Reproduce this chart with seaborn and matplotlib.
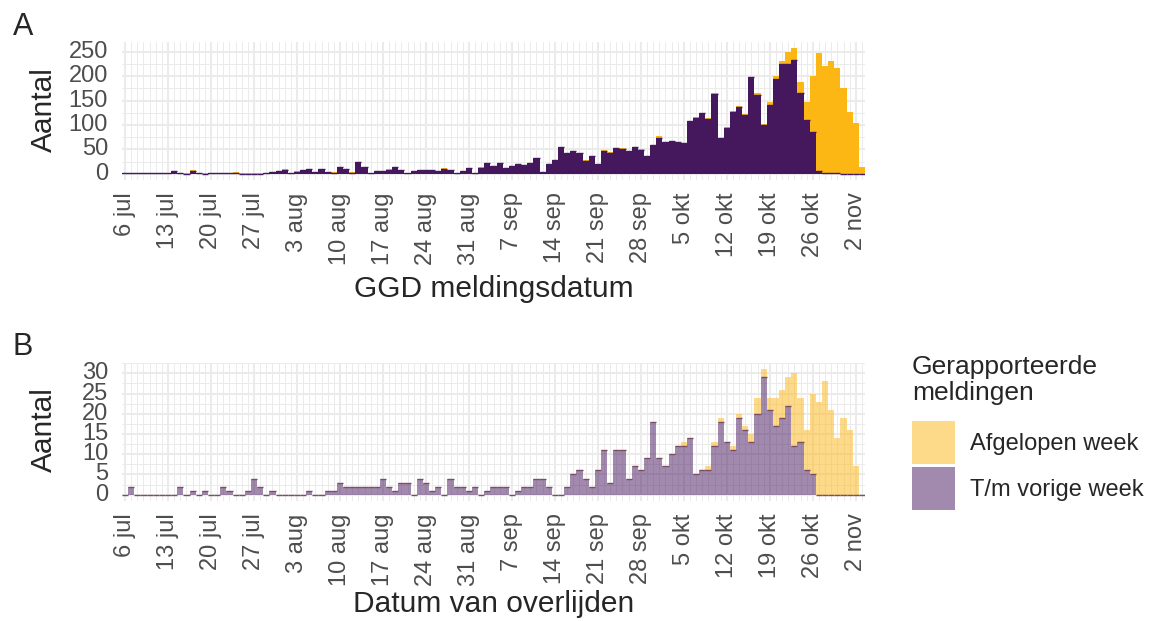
import numpy as np
import pandas as pd
import matplotlib
matplotlib.use("Agg")
import matplotlib.pyplot as plt
import seaborn as sns
from matplotlib.patches import Patch
from matplotlib.ticker import MultipleLocator, FixedLocator

# ---------------- data ----------------
dates = pd.date_range("2020-07-06", "2020-11-03", freq="D")

# Panel A: GGD meldingsdatum
a_prev = [1, 1, 1, 1, 1, 1, 1, 1, 5, 1, 0, 5, 1, 0, 1, 2, 2, 2, 2, 0,
          0, 0, 0, 1, 3, 6, 8, 1, 4, 7, 9, 3, 9, 4, 1, 14, 10, 1, 24, 14,
          1, 5, 5, 8, 13, 7, 2, 5, 7, 7, 7, 5, 10, 7, 1, 5, 11, 1, 12, 21,
          15, 21, 11, 15, 19, 17, 23, 33, 3, 19, 28, 54, 42, 46, 42, 26, 36, 19, 47, 43,
          52, 50, 46, 54, 49, 36, 58, 74, 65, 67, 65, 64, 109, 115, 124, 113, 164, 73, 93, 127,
          136, 121, 198, 161, 100, 140, 195, 224, 224, 234, 165, 111, 85, 5, 1, 1, 1, 0, 0, 0,
          0]
a_week = [0, 0, 0, 0, 0, 0, 0, 0, 0, 0, 2, 2, 0, 2, 0, 0, 0, 0, 1, 2,
          2, 2, 2, 0, 0, 0, 1, 0, 1, 0, 0, 1, 1, 0, 2, 0, 0, 2, 1, 0,
          1, 1, 1, 1, 0, 0, 0, 1, 1, 1, 1, 1, 1, 1, 1, 0, 0, 0, 1, 0,
          0, 2, 0, 0, 0, 0, 0, 0, 1, 0, 1, 0, 0, 0, 0, 2, 0, 0, 1, 2,
          0, 2, 0, 0, 1, 0, 1, 4, 1, 1, 1, 0, 0, 2, 0, 2, 1, 1, 2, 1,
          2, 1, 1, 4, 1, 7, 6, 8, 25, 23, 24, 37, 116, 242, 219, 231, 215, 175, 126, 103,
          13]

# Panel B: Datum van overlijden
b_prev = [0, 2, 0, 0, 0, 0, 0, 0, 0, 2, 0, 1, 0, 1, 0, 0, 2, 1, 0, 0,
          1, 4, 2, 0, 1, 0, 0, 0, 0, 0, 1, 0, 0, 1, 1, 3, 2, 2, 2, 2,
          2, 2, 4, 2, 1, 3, 3, 0, 4, 3, 1, 2, 0, 4, 2, 2, 1, 2, 0, 1,
          2, 2, 2, 0, 1, 2, 2, 4, 4, 2, 0, 0, 2, 5, 6, 4, 2, 6, 11, 3,
          11, 11, 4, 7, 6, 9, 18, 9, 7, 10, 12, 12, 14, 5, 6, 6, 12, 18, 13, 11,
          19, 16, 13, 20, 29, 21, 17, 19, 22, 12, 13, 6, 5, 0, 0, 0, 0, 0, 0, 0,
          0]
b_week = [0, 0, 0, 0, 0, 0, 0, 0, 0, 0, 0, 0, 0, 0, 0, 0, 0, 0, 0, 0,
          0, 0, 0, 0, 0, 0, 0, 0, 0, 0, 0, 0, 0, 0, 0, 0, 0, 0, 0, 0,
          0, 0, 0, 0, 0, 0, 0, 0, 0, 0, 0, 0, 0, 0, 0, 0, 0, 0, 0, 0,
          0, 0, 0, 0, 0, 0, 0, 0, 0, 0, 0, 0, 0, 0, 0, 0, 0, 0, 0, 0,
          0, 0, 0, 0, 0, 0, 0, 0, 0, 0, 0, 1, 0, 0, 0, 1, 1, 1, 0, 1,
          1, 1, 2, 4, 2, 3, 7, 7, 7, 18, 11, 10, 20, 23, 28, 21, 14, 19, 16, 7,
          0]

tick_days = [0, 7, 14, 21, 28, 35, 42, 49, 56, 63, 70, 77, 84, 91, 98, 105, 112, 119]
tick_labels = ["6 jul", "13 jul", "20 jul", "27 jul", "3 aug", "10 aug", "17 aug",
               "24 aug", "31 aug", "7 sep", "14 sep", "21 sep", "28 sep", "5 okt",
               "12 okt", "19 okt", "26 okt", "2 nov"]

cat_prev = "T/m vorige week"
cat_week = "Afgelopen week"
PURPLE = "#45175d"
ORANGE = "#fdb714"
GRID = "#ebebeb"

# ---------------- figure ----------------
sns.set_theme(style="white")
plt.rcParams["font.family"] = ["Liberation Sans", "DejaVu Sans"]

W, H = 1150, 621
fig = plt.figure(figsize=(W / 100, H / 100), dpi=100)
axA = fig.add_axes([122 / W, 1 - 180 / H, 743 / W, 138 / H])
axB = fig.add_axes([122 / W, 1 - 501 / H, 743 / W, 138 / H])


def panel(ax, prev, week, alpha, ylim, major, minor, edge):
    day = np.arange(len(dates))
    df = pd.DataFrame({
        "day": np.concatenate([day, day]),
        "n": list(prev) + list(week),
        "cat": [cat_prev] * len(day) + [cat_week] * len(day),
    })
    sns.histplot(data=df, x="day", weights="n", hue="cat",
                 hue_order=[cat_week, cat_prev], multiple="stack",
                 discrete=True, palette={cat_prev: PURPLE, cat_week: ORANGE},
                 alpha=alpha, linewidth=0, legend=False, ax=ax)
    # outline at the top of the "T/m vorige week" segment
    ax.hlines(prev, day - 0.5, day + 0.5, colors=edge, linewidth=1.0, zorder=3)
    ax.set_xlim(-0.5, len(day) - 0.5)
    ax.set_ylim(*ylim)
    ax.xaxis.set_major_locator(FixedLocator(tick_days))
    ax.set_xticklabels(tick_labels, rotation=90)
    ax.xaxis.set_minor_locator(MultipleLocator(1))
    ax.yaxis.set_major_locator(MultipleLocator(major))
    ax.yaxis.set_minor_locator(MultipleLocator(minor))
    ax.set_axisbelow(True)
    ax.grid(which="major", color=GRID, linewidth=1.5)
    ax.grid(which="minor", color=GRID, linewidth=0.7)
    for s in ax.spines.values():
        s.set_visible(False)
    ax.tick_params(which="both", length=0)
    ax.tick_params(axis="both", labelsize=17, labelcolor="#4d4d4d")
    ax.tick_params(axis="x", pad=9)
    ax.tick_params(axis="y", pad=10)
    ax.set_xlabel("")
    ax.set_ylabel("")
    for lab in ax.get_yticklabels():
        lab.set_verticalalignment("center")


panel(axA, a_prev, a_week, 1.0, (-12.85, 270), 50, 25, PURPLE)
panel(axB, b_prev, b_week, 0.5, (-1.55, 32.55), 5, 2.5, "#7b4f5f")

# texts
fig.text(23 / W, 1 - 27 / H, "A", fontsize=22, ha="center", va="center")
fig.text(23 / W, 1 - 347 / H, "B", fontsize=22, ha="center", va="center")
fig.text(44 / W, 1 - 110 / H, "Aantal", fontsize=21.5, rotation=90, ha="center", va="center")
fig.text(44 / W, 1 - 430 / H, "Aantal", fontsize=21.5, rotation=90, ha="center", va="center")
fig.text(494 / W, 1 - 289 / H, "GGD meldingsdatum", fontsize=21.5, ha="center", va="center")
fig.text(494 / W, 1 - 604 / H, "Datum van overlijden", fontsize=21.5, ha="center", va="center")

# legend (title drawn as separate text, as in the reference layout)
fig.text(912 / W, 1 - 355 / H, "Gerapporteerde\nmeldingen", fontsize=19,
         ha="left", va="top", linespacing=1.12)
handles = [
    Patch(facecolor=ORANGE, alpha=0.5, edgecolor="none", label=cat_week),
    Patch(facecolor=PURPLE, alpha=0.5, edgecolor="none", label=cat_prev),
]
fig.legend(handles=handles,
           loc="upper left", bbox_to_anchor=(912 / W, 1 - 421 / H),
           frameon=False, fontsize=17,
           handlelength=1.82, handleheight=2.43, labelspacing=0.13,
           handletextpad=0.62, borderpad=0, borderaxespad=0)

fig.savefig("out.png", dpi=100)
